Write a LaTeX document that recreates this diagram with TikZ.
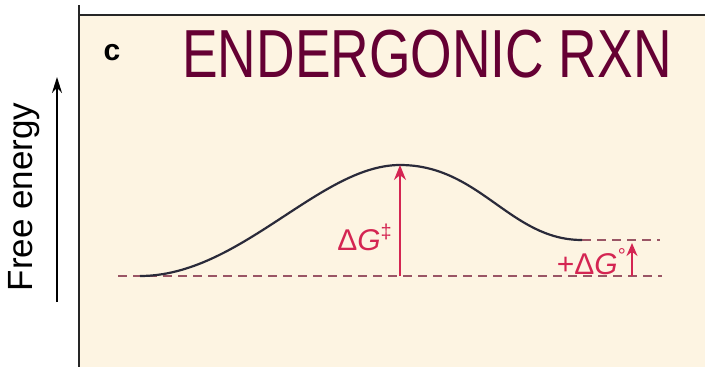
\documentclass[tikz,border=0pt]{standalone}
\usepackage{fontspec}
\setmainfont{Liberation Sans}
\usetikzlibrary{arrows.meta}
\definecolor{cream}{HTML}{FDF4E2}
\definecolor{maroon}{HTML}{650033}
\definecolor{crim}{HTML}{D42552}
\definecolor{dash}{HTML}{9A5565}
\definecolor{curve}{HTML}{2A2A3A}
\tikzset{
  dashln/.style={draw=dash, line width=2.2pt, dash pattern=on 9pt off 6pt},
  redarrow/.style={draw=crim, line width=2pt, -{Stealth[length=15pt,width=12pt]}},
  lbl/.style={text=crim, inner sep=0pt, font=\fontsize{30}{31}\selectfont}
}
\begin{document}
\begin{tikzpicture}[x=1pt,y=-1pt]
\useasboundingbox (0,0) rectangle (705,367);
\fill[white] (0,0) rectangle (705,367);
\fill[cream] (79,15) rectangle (705,367);
\draw[line width=2pt, black!85] (79,5) -- (79,367);
\draw[line width=2pt, black!85] (79,15) -- (705,15);
% axis
\coordinate (ab) at (57,302);
\coordinate (at) at (57,77);
\draw[line width=2pt, -{Stealth[length=16pt,width=10pt]}] (ab) -- (at);
\node[rotate=90, inner sep=0pt, font=\fontsize{35}{36}\selectfont] (fe) at (24,197) {Free energy};
\node[inner sep=0pt, font=\bfseries\fontsize{30}{31}\selectfont] (c) at (112,53) {c};
\node[inner sep=0pt, text=maroon, font=\fontsize{68}{70}\selectfont] (title) at (427,54) {\scalebox{0.785}[1]{ENDERGONIC RXN}};
% energy levels
\coordinate (dl0) at (118,276);
\coordinate (dl1) at (662,276);
\coordinate (du0) at (582,240);
\coordinate (du1) at (660,240);
\draw[dashln] (dl0) -- (dl1);
\draw[dashln] (du0) -- (du1);
% curve
\coordinate (start) at (140,276);
\coordinate (peak) at (400,165);
\coordinate (end) at (582,240);
\draw[curve, line width=2.2pt] (start) .. controls (240,276) and (320,165) .. (peak)
  .. controls (480,165) and (510,240) .. (end);
% arrows
\coordinate (a1b) at (400,276);
\draw[redarrow] (a1b) -- (peak);
\coordinate (a2b) at (632,276);
\coordinate (a2t) at (632,243);
\draw[redarrow, -{Stealth[length=13pt,width=11pt]}] (a2b) -- (a2t);
\node[lbl, anchor=east] (dg) at (392,237) {Δ\textit{G}\raisebox{0.4em}{\fontsize{20}{20}\selectfont ‡}};
\node[lbl, anchor=east] (dg0) at (626,262) {+Δ\textit{G}\raisebox{0.4em}{\fontsize{20}{20}\selectfont °}};
\end{tikzpicture}
\end{document}
